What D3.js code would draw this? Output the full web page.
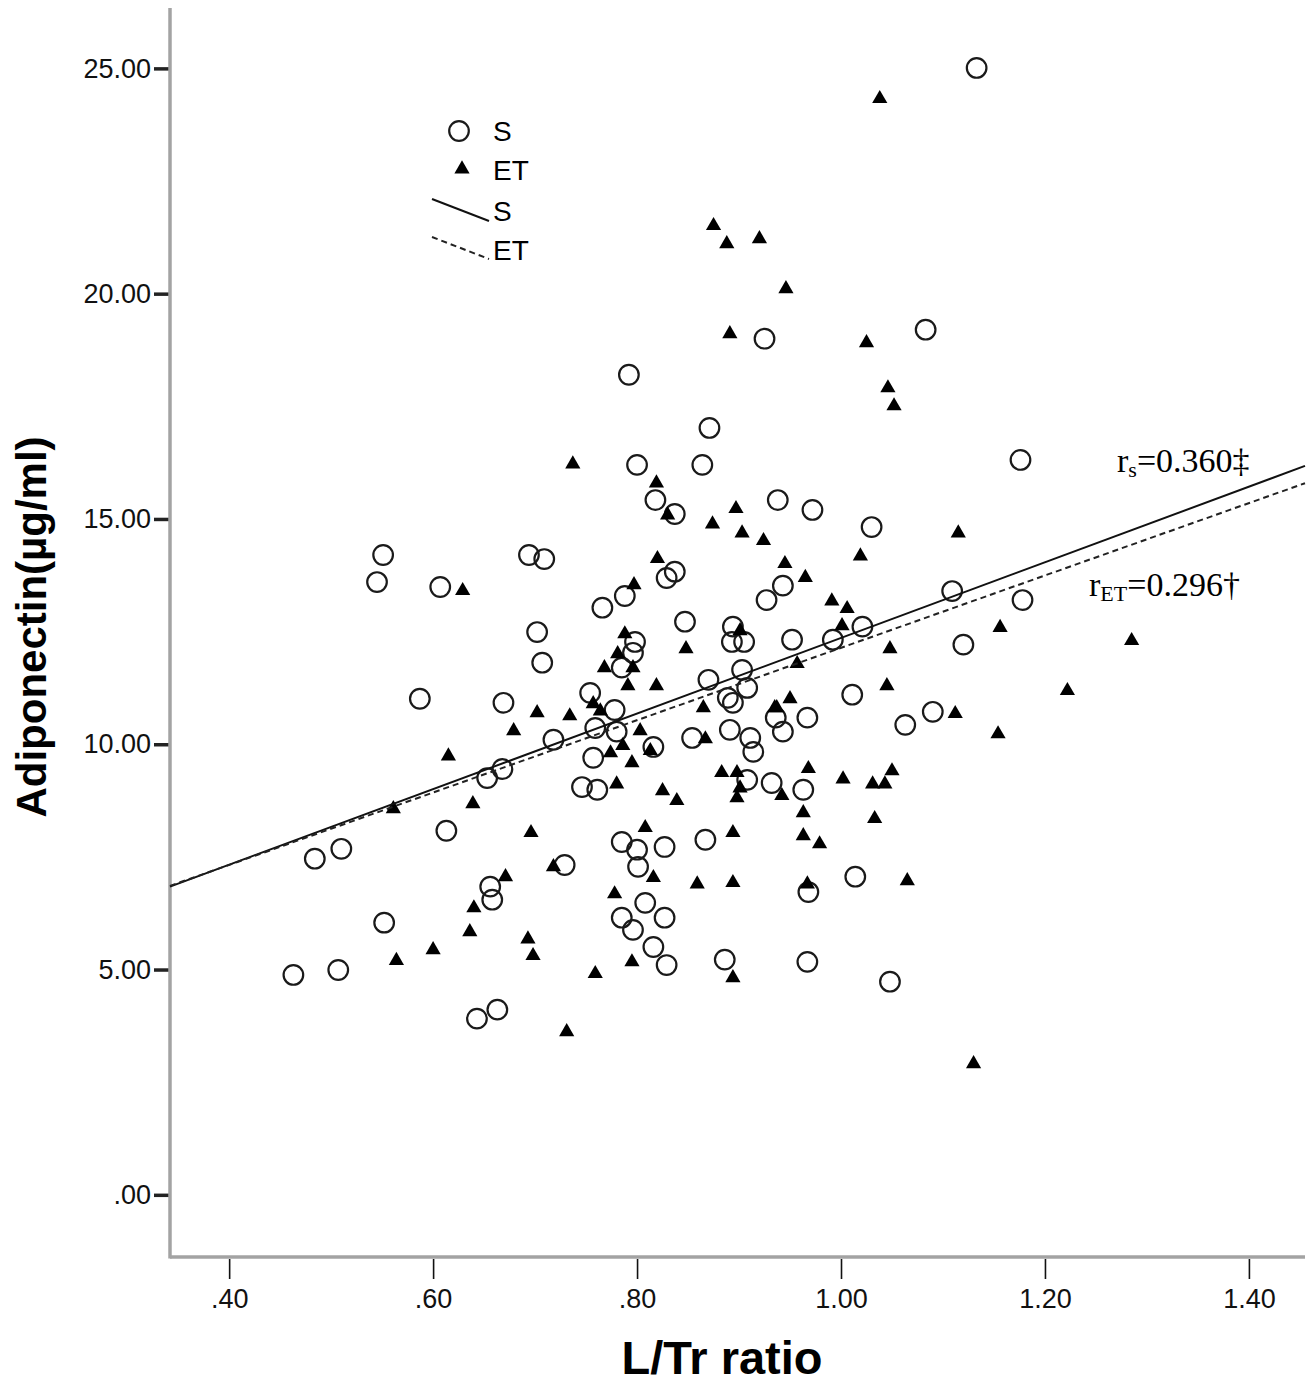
<!DOCTYPE html>
<html>
<head>
<meta charset="utf-8">
<script src="https://cdn.jsdelivr.net/npm/d3@7"></script>
<style>
  body { margin: 0; background: #fff; }
  svg { display: block; }
</style>
</head>
<body>
<svg id="chart"></svg>
<script>
// group S (open circles): [L/Tr ratio, adiponectin]
var sPoints = [
  [0.463,4.88],[0.507,4.99],[0.484,7.46],[0.510,7.68],[0.552,6.04],[0.551,14.20],[0.545,13.60],[0.607,13.49],
  [0.587,11.01],[0.613,8.08],[0.643,3.91],[0.663,4.11],[0.656,6.84],[0.658,6.55],[0.653,9.25],[0.668,9.45],
  [0.669,10.92],[0.694,14.20],[0.709,14.11],[0.702,12.49],[0.707,11.81],[0.718,10.10],[0.729,7.32],
  [0.754,11.14],[0.778,10.76],[0.766,13.03],[0.788,13.29],[0.757,9.70],[0.759,10.36],[0.780,10.28],[0.746,9.05],
  [0.761,8.99],[0.785,7.83],[0.800,7.66],[0.801,7.28],[0.808,6.48],[0.785,6.15],[0.796,5.88],[0.827,6.15],
  [0.816,5.50],[0.829,5.10],[0.827,7.72],[0.867,7.88],[0.886,5.22],[0.792,18.20],[0.800,16.20],[0.818,15.42],
  [0.837,15.11],[0.864,16.20],[0.871,17.02],[0.837,13.83],[0.829,13.69],[0.796,12.03],[0.798,12.27],[0.785,11.70],
  [0.847,12.72],[0.870,11.43],[0.816,9.94],[0.854,10.14],[0.891,10.32],[0.911,10.14],[0.914,9.83],[0.894,12.61],
  [0.893,12.27],[0.905,12.27],[0.903,11.65],[0.908,11.25],[0.889,11.03],[0.894,10.92],[0.908,9.21],[0.925,19.00],
  [0.927,13.20],[0.943,13.52],[0.938,15.42],[0.972,15.20],[0.936,10.59],[0.967,10.59],[0.943,10.28],[0.932,9.14],
  [0.963,8.99],[0.952,12.32],[0.992,12.32],[1.021,12.61],[1.030,14.82],[1.011,11.10],[1.014,7.06],[0.968,6.72],
  [0.967,5.17],[1.048,4.73],[1.063,10.43],[1.090,10.72],[1.083,19.20],[1.109,13.40],[1.120,12.21],[1.133,25.01],
  [1.176,16.31],[1.178,13.20]
];

// group ET (filled triangles)
var etPoints = [
  [0.629,13.43],[0.615,9.76],[0.561,8.59],[0.564,5.22],[0.600,5.46],[0.636,5.86],[0.640,6.39],[0.639,8.70],
  [0.671,7.08],[0.696,8.06],[0.693,5.70],[0.698,5.33],[0.718,7.30],[0.679,10.32],[0.702,10.72],[0.731,3.64],
  [0.734,10.65],[0.737,16.24],
  [1.038,24.35],[0.875,21.53],[0.888,21.13],[0.920,21.24],[0.946,20.13],[0.891,19.13],[1.025,18.93],[1.046,17.93],
  [1.052,17.53],[0.819,15.82],[0.830,15.11],[0.897,15.25],[0.874,14.91],[0.903,14.71],[0.924,14.54],[1.115,14.71],
  [1.019,14.20],[0.945,14.03],[0.965,13.72],[0.820,14.14],[0.797,13.56],[0.991,13.20],[1.006,13.03],[1.001,12.65],
  [1.156,12.61],[0.788,12.47],[0.781,12.03],[0.768,11.72],[0.796,11.72],[0.791,11.32],[0.819,11.32],[0.848,12.14],
  [0.901,12.54],[1.048,12.14],[0.957,11.81],[1.285,12.32],[1.222,11.21],[1.045,11.32],[0.950,11.03],[0.937,10.83],
  [1.112,10.70],[1.154,10.25],[0.757,10.92],[0.764,10.76],[0.865,10.83],[0.935,10.83],[0.803,10.32],[0.774,9.83],
  [0.786,9.99],[0.813,9.88],[0.795,9.61],[0.867,10.14],[0.778,6.70],[0.808,8.17],[0.780,9.14],[0.825,8.99],
  [0.839,8.77],[0.816,7.06],[0.859,6.92],[0.883,9.39],[0.898,9.39],[0.901,9.05],[0.898,8.83],[0.894,8.06],
  [0.894,6.95],[0.894,4.84],[0.968,9.48],[1.002,9.25],[1.031,9.14],[1.043,9.14],[1.050,9.43],[0.942,8.88],
  [0.963,8.50],[1.033,8.37],[0.963,7.99],[0.979,7.81],[0.967,6.92],[1.065,6.99],[1.130,2.93],[0.795,5.19],
  [0.759,4.93]
];

// fit lines: [intercept, slope]
var fitS = [3.97, 8.39];
var fitET = [4.11, 8.03];

var xTicks = [0.4, 0.6, 0.8, 1.0, 1.2, 1.4];
var yTicks = [0, 5, 10, 15, 20, 25];
var legendItems = ["S", "ET", "S", "ET"];

var W = 1313, H = 1386;
var plotL = 170, plotR = 1305, plotT = 8, plotB = 1257;

var svg = d3.select("#chart").attr("width", W).attr("height", H);

var x = d3.scaleLinear().domain([0.342, 1.455]).range([plotL, plotR]);
var y = d3.scaleLinear().domain([-1.38, 26.34]).range([plotB, plotT]);

function spss(v) {
  return d3.format(".2f")(v).replace(/^0\./, ".");
}

// axes
var xAxis = svg.append("g")
    .attr("transform", "translate(0," + plotB + ")")
    .call(d3.axisBottom(x).tickValues(xTicks).tickFormat(spss).tickSize(22).tickPadding(10));
xAxis.select(".domain").remove();
xAxis.selectAll(".tick line").attr("stroke", "#111").attr("stroke-width", 1.6).attr("y1", 2);
xAxis.selectAll(".tick text")
    .attr("font-family", "Arial, 'Liberation Sans', sans-serif")
    .attr("font-size", 27).attr("fill", "#111");

var yAxis = svg.append("g")
    .attr("transform", "translate(" + plotL + ",0)")
    .call(d3.axisLeft(y).tickValues(yTicks).tickFormat(spss).tickSize(16).tickPadding(3));
yAxis.select(".domain").remove();
yAxis.selectAll(".tick line").attr("stroke", "#222").attr("stroke-width", 3.5);
yAxis.selectAll(".tick text")
    .attr("font-family", "Arial, 'Liberation Sans', sans-serif")
    .attr("font-size", 27).attr("fill", "#111");

// gray frame lines
svg.append("line").attr("x1", plotL).attr("x2", plotL).attr("y1", plotT).attr("y2", plotB + 1.5)
    .attr("stroke", "#a3a3a3").attr("stroke-width", 3.5);
svg.append("line").attr("x1", plotL).attr("x2", plotR).attr("y1", plotB).attr("y2", plotB)
    .attr("stroke", "#a3a3a3").attr("stroke-width", 3.5);

// axis titles
svg.append("text")
    .attr("transform", "translate(46,627) rotate(-90)")
    .attr("text-anchor", "middle")
    .attr("font-family", "Arial, 'Liberation Sans', sans-serif")
    .attr("font-weight", "bold").attr("font-size", 42)
    .text("Adiponectin(\u00b5g/ml)");

svg.append("text")
    .attr("x", 722).attr("y", 1374)
    .attr("text-anchor", "middle")
    .attr("font-family", "Arial, 'Liberation Sans', sans-serif")
    .attr("font-weight", "bold").attr("font-size", 47)
    .text("L/Tr ratio");

// points
var tri = d3.symbol().type(d3.symbolTriangle).size(100);

svg.append("g").selectAll("circle")
    .data(sPoints)
    .enter().append("circle")
    .attr("cx", function(d) { return x(d[0]); })
    .attr("cy", function(d) { return y(d[1]); })
    .attr("r", 9.8)
    .attr("fill", "none")
    .attr("stroke", "#1a1a1a")
    .attr("stroke-width", 2.2);

svg.append("g").selectAll("path")
    .data(etPoints)
    .enter().append("path")
    .attr("transform", function(d) { return "translate(" + x(d[0]) + "," + (y(d[1]) + 1) + ")"; })
    .attr("d", tri)
    .attr("fill", "#000");

// fit lines
var xr = x.domain();
function fitLine(f) {
  return xr.map(function(v) { return [x(v), y(f[0] + f[1] * v)]; });
}
svg.append("path")
    .attr("d", d3.line()(fitLine(fitS)))
    .attr("stroke", "#111").attr("stroke-width", 2).attr("fill", "none");
svg.append("path")
    .attr("d", d3.line()(fitLine(fitET)))
    .attr("stroke", "#222").attr("stroke-width", 2).attr("stroke-dasharray", "6,4").attr("fill", "none");

// correlation labels
var rS = svg.append("text").attr("x", 1117).attr("y", 472)
    .attr("font-family", "'Times New Roman', 'Liberation Serif', serif").attr("font-size", 34);
rS.append("tspan").text("r");
rS.append("tspan").attr("font-size", 22).attr("dy", 5).text("s");
rS.append("tspan").attr("dy", -5).text("=0.360\u2021");

var rET = svg.append("text").attr("x", 1089).attr("y", 596)
    .attr("font-family", "'Times New Roman', 'Liberation Serif', serif").attr("font-size", 34);
rET.append("tspan").text("r");
rET.append("tspan").attr("font-size", 22).attr("dy", 5).text("ET");
rET.append("tspan").attr("dy", -5).text("=0.296\u2020");

// legend
var lg = svg.append("g").attr("font-family", "Arial, 'Liberation Sans', sans-serif").attr("font-size", 28);
var ly = [131, 170, 211, 250];
lg.append("circle").attr("cx", 459).attr("cy", ly[0]).attr("r", 9.8)
    .attr("fill", "none").attr("stroke", "#1a1a1a").attr("stroke-width", 2.2);
lg.append("path").attr("transform", "translate(462," + (ly[1] - 1) + ")").attr("d", tri).attr("fill", "#000");
lg.append("line").attr("x1", 432).attr("y1", 199).attr("x2", 489).attr("y2", 221)
    .attr("stroke", "#111").attr("stroke-width", 2);
lg.append("line").attr("x1", 432).attr("y1", 237).attr("x2", 489).attr("y2", 259)
    .attr("stroke", "#222").attr("stroke-width", 2).attr("stroke-dasharray", "6,4");
lg.selectAll("text.lab")
    .data(legendItems)
    .enter().append("text")
    .attr("class", "lab")
    .attr("x", 493)
    .attr("y", function(d, i) { return ly[i]; })
    .attr("dy", "0.36em")
    .text(function(d) { return d; });
</script>
</body>
</html>
